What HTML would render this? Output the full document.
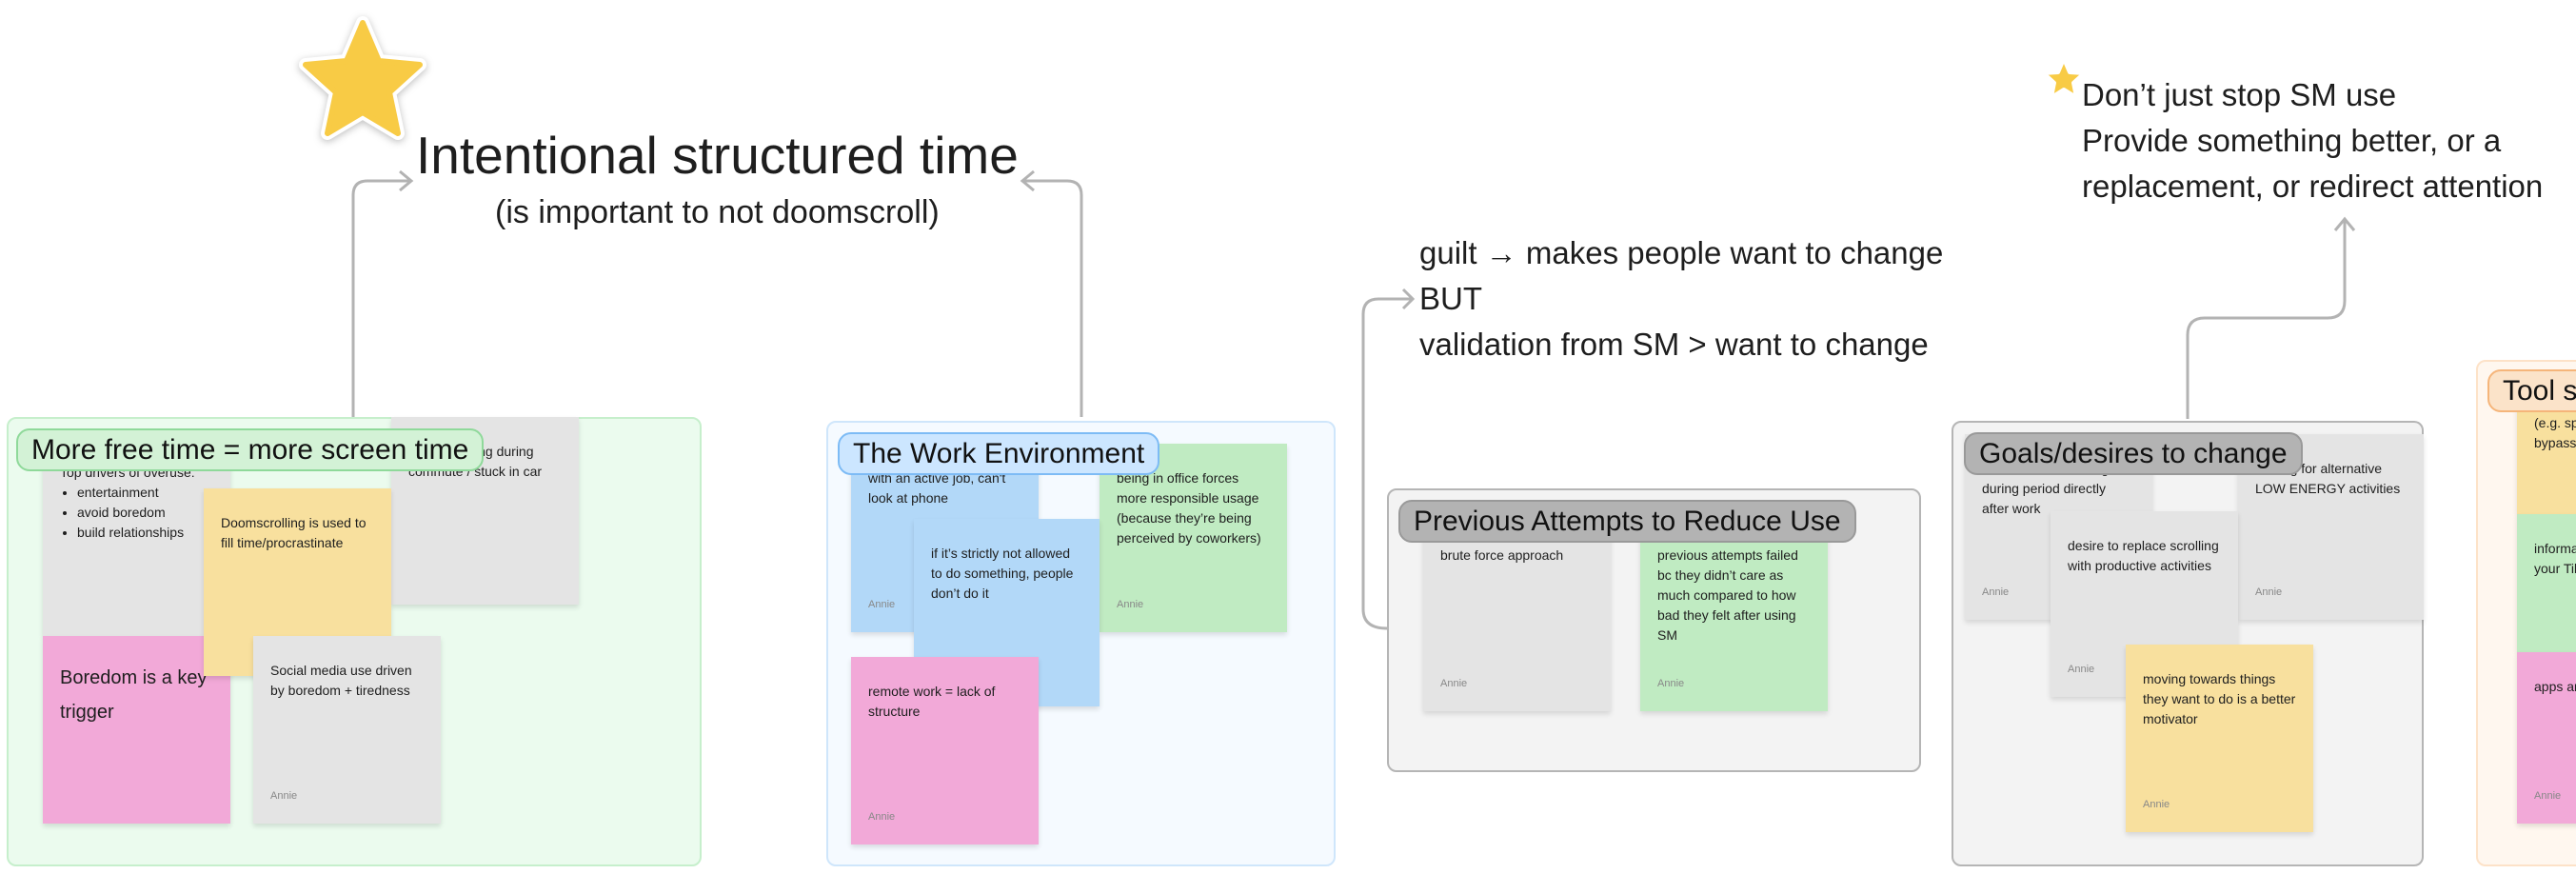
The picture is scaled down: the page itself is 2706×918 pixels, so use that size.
<!DOCTYPE html>
<html><head><meta charset="utf-8"><style>
*{margin:0;padding:0;box-sizing:border-box}
body{width:2706px;height:918px;background:#fff;position:relative;overflow:hidden;font-family:"Liberation Sans",sans-serif;color:#1e1e1e}
.a{position:absolute}
.frame{position:absolute;border:2px solid;border-radius:10px}
.lbl{position:absolute;border:2px solid;border-radius:14px;font-size:30px;height:45px;line-height:41px;padding:0 14px;white-space:nowrap;color:#111}
.n{position:absolute;width:197px;height:197px;padding:26px 18px;font-size:14px;line-height:21px;box-shadow:0 3px 5px rgba(0,0,0,.12);overflow:hidden}
.n .w{position:absolute;left:18px;bottom:18px;font-size:11px;color:#888}
.g{background:#e4e4e4}.y{background:#f8e09e}.p{background:#f2a9d8}.gr{background:#c0ebc2}.b{background:#b2d8f8}
ul{padding-left:18px}
.big{font-size:33px;line-height:48px;white-space:nowrap}
</style></head><body>

<svg class="a" style="left:0;top:0" width="2706" height="918">
<g fill="none" stroke="#b3b3b3" stroke-width="3">
<path d="M371 438 V205 Q371 190 386 190 H432"/>
<path d="M420 180 L432 190 L420 200"/>
<path d="M1136 438 V205 Q1136 190 1121 190 H1074"/>
<path d="M1086 180 L1074 190 L1086 200"/>
<path d="M1457 660 Q1432 660 1432 640 V330 Q1432 314 1448 314 H1484"/>
<path d="M1474 304 L1484 314 L1474 324"/>
<path d="M2298 440 V352 Q2298 334 2316 334 H2445 Q2463 334 2463 316 V230"/>
<path d="M2453 242 L2463 230 L2473 242"/>
</g>
<path d="M381 24 L398 64 L441 68 L409 97 L418 140 L381 118 L344 140 L353 97 L321 68 L364 64 Z" fill="#f8cb45" stroke="#fff" stroke-width="14" stroke-linejoin="round" style="filter:drop-shadow(0 2px 4px rgba(0,0,0,.25))"/>
<path d="M381 24 L398 64 L441 68 L409 97 L418 140 L381 118 L344 140 L353 97 L321 68 L364 64 Z" fill="#f8cb45" stroke="#f8cb45" stroke-width="6" stroke-linejoin="round"/>
<path d="M2168 62 L2174 76 L2189 77 L2178 87 L2181 102 L2168 94 L2155 102 L2158 87 L2147 77 L2162 76 Z" fill="#f8cb45" stroke="#fff" stroke-width="4" stroke-linejoin="round"/>
</svg>

<div class="a" style="left:437px;top:131px;font-size:55px;white-space:nowrap">Intentional structured time</div>
<div class="a" style="left:520px;top:204px;font-size:34px;white-space:nowrap">(is important to not doomscroll)</div>

<div class="a big" style="left:1491px;top:242px">guilt → makes people want to change<br>BUT<br>validation from SM &gt; want to change</div>
<div class="a big" style="left:2187px;top:76px">Don’t just stop SM use<br>Provide something better, or a<br>replacement, or redirect attention</div>

<!-- green frame -->
<div class="frame" style="left:7px;top:438px;width:730px;height:472px;background:#ebfbee;border-color:#c6efcc"></div>
<div class="n g" style="left:411px;top:438px">Doomscrolling during<br>commute / stuck in car</div>
<div class="n g" style="left:45px;top:452px;height:216px;padding-top:34px">Top drivers of overuse:<ul><li>entertainment</li><li>avoid boredom</li><li>build relationships</li></ul></div>
<div class="n p" style="left:45px;top:668px;font-size:20px;line-height:36px">Boredom is a key trigger</div>
<div class="n y" style="left:214px;top:513px">Doomscrolling is used to fill time/procrastinate</div>
<div class="n g" style="left:266px;top:668px">Social media use driven by boredom + tiredness<span class="w">Annie</span></div>
<div class="lbl" style="left:17px;top:450px;background:#d3f2d6;border-color:#8fd99a">More free time = more screen time</div>

<!-- blue frame -->
<div class="frame" style="left:868px;top:442px;width:535px;height:468px;background:#f5faff;border-color:#cfe6fb"></div>
<div class="n b" style="left:894px;top:466px;height:198px">with an active job, can't look at phone<span class="w">Annie</span></div>
<div class="n gr" style="left:1155px;top:466px;height:198px">being in office forces more responsible usage (because they’re being perceived by coworkers)<span class="w">Annie</span></div>
<div class="n b" style="left:960px;top:545px;width:195px">if it’s strictly not allowed to do something, people don’t do it</div>
<div class="n p" style="left:894px;top:690px">remote work = lack of structure<span class="w">Annie</span></div>
<div class="lbl" style="left:880px;top:454px;background:#cce6ff;border-color:#7dbbf5">The Work Environment</div>

<!-- previous attempts -->
<div class="frame" style="left:1457px;top:513px;width:561px;height:298px;background:#f3f3f3;border-color:#b5b5b5"></div>
<div class="n g" style="left:1495px;top:549px;height:198px;padding-top:24px">brute force approach<span class="w">Annie</span></div>
<div class="n gr" style="left:1723px;top:549px;height:198px;padding-top:24px">previous attempts failed bc they didn’t care as much compared to how bad they felt after using SM<span class="w">Annie</span></div>
<div class="lbl" style="left:1469px;top:525px;background:#b3b3b3;border-color:#999">Previous Attempts to Reduce Use</div>

<!-- goals -->
<div class="frame" style="left:2050px;top:442px;width:496px;height:468px;background:#f3f3f3;border-color:#b5b5b5"></div>
<div class="n g" style="left:2064px;top:456px;height:195px">want to do something during period directly after work<span class="w">Annie</span></div>
<div class="n g" style="left:2351px;top:456px;width:195px;height:195px">looking for alternative LOW ENERGY activities<span class="w">Annie</span></div>
<div class="n g" style="left:2154px;top:537px;height:195px">desire to replace scrolling with productive activities<span class="w">Annie</span></div>
<div class="n y" style="left:2233px;top:677px">moving towards things they want to do is a better motivator<span class="w">Annie</span></div>
<div class="lbl" style="left:2063px;top:454px;background:#b3b3b3;border-color:#999">Goals/desires to change</div>

<!-- tool (clipped at page edge) -->
<div class="a" style="left:2590px;top:370px;width:116px;height:548px;overflow:hidden">
<div class="frame" style="left:11px;top:8px;width:200px;height:532px;background:#fff7ef;border-color:#fde2c8"></div>
<div class="n y" style="left:54px;top:30px;height:140px;padding-top:34px">(e.g. specific things to bypass</div>
<div class="n gr" style="left:54px;top:170px;height:145px">information ineffective your TikTok</div>
<div class="n p" style="left:54px;top:315px;height:180px">apps are (bypassed)<span class="w">Annie</span></div>
<div class="lbl" style="left:23px;top:18px;background:#fbe3c9;border-color:#f5b57a">Tool suggestions</div>
</div>

</body></html>
